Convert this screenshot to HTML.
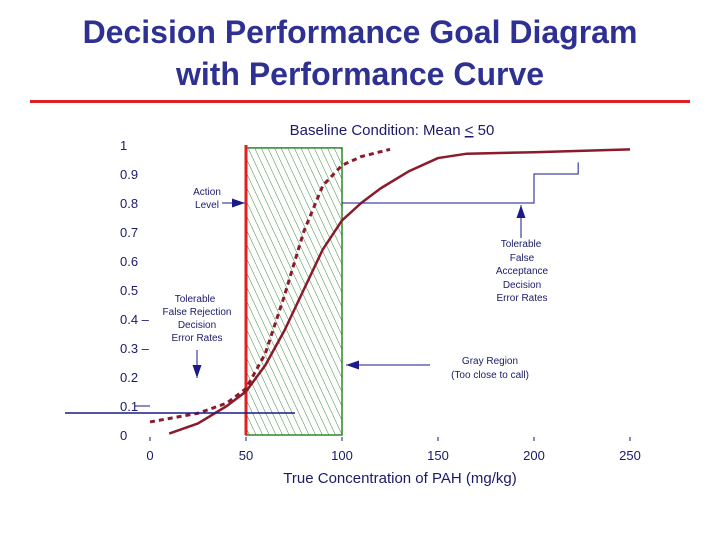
<!DOCTYPE html>
<html><head><meta charset="utf-8"><style>
body{margin:0;width:720px;height:540px;background:#fff;overflow:hidden;font-family:"Liberation Sans",sans-serif}
</style></head><body>
<svg width="720" height="540">
<defs><pattern id="hatch" patternUnits="userSpaceOnUse" width="6" height="8" patternTransform="rotate(-25)"><line x1="0" y1="0" x2="0" y2="8" stroke="#3a8a3a" stroke-width="1"/></pattern></defs>
<text x="360" y="43" text-anchor="middle" font-size="32" font-weight="bold" fill="#2e3192">Decision Performance Goal Diagram</text>
<text x="360" y="85" text-anchor="middle" font-size="32" font-weight="bold" fill="#2e3192">with Performance Curve</text>
<rect x="30" y="100" width="660" height="3" fill="#e02020"/>
<text x="392" y="135" text-anchor="middle" font-size="15" fill="#1a1a6a">Baseline Condition:  Mean <tspan text-decoration="underline">&lt;</tspan> 50</text>
<g id="axes"></g>
<g id="plot"></g>
<text x="400" y="483" text-anchor="middle" font-size="15" fill="#1a1a6a">True Concentration of PAH (mg/kg)</text>
<g font-size="10" fill="#1a1a6a" text-anchor="middle">
<text x="207" y="195"><tspan x="207">Action</tspan><tspan x="207" dy="13">Level</tspan></text>
<text x="197" y="302"><tspan x="195">Tolerable</tspan><tspan x="197" dy="13">False Rejection</tspan><tspan x="197" dy="13">Decision</tspan><tspan x="197" dy="13">Error Rates</tspan></text>
<text x="522" y="247"><tspan x="521">Tolerable</tspan><tspan x="522" dy="14">False</tspan><tspan x="522" dy="13">Acceptance</tspan><tspan x="522" dy="14">Decision</tspan><tspan x="522" dy="13">Error Rates</tspan></text>
<text x="490" y="364"><tspan x="490">Gray Region</tspan><tspan x="490" dy="14">(Too close to call)</tspan></text>
</g>
</svg>
<script>
const xTicks=[0,50,100,150,200,250];
const yTicks=[0,0.1,0.2,0.3,0.4,0.5,0.6,0.7,0.8,0.9,1];
const yTickLabels=["0","0.1","0.2","0.3 \u2013","0.4 \u2013","0.5","0.6","0.7","0.8","0.9","1"];
const solidX=[10,25,40,50,60,70,80,90,100,110,120,135,150,165,200,250];
const solidY=[0.005,0.04,0.1,0.15,0.24,0.36,0.5,0.64,0.74,0.8,0.85,0.91,0.955,0.97,0.975,0.985];
const dashX=[0,25,40,50,60,70,80,90,100,110,125];
const dashY=[0.045,0.075,0.11,0.16,0.28,0.48,0.7,0.86,0.93,0.96,0.985];
const grayLo=50, grayHi=100, actionLevel=50;
const X=v=>150+v*1.92, Y=v=>435-v*290;
const NS="http://www.w3.org/2000/svg";
function mk(t,a,p){const e=document.createElementNS(NS,t);for(const k in a)e.setAttribute(k,a[k]);p.appendChild(e);return e;}
const ax=document.getElementById('axes'), pl=document.getElementById('plot');
xTicks.forEach(v=>{const t=mk('text',{x:X(v),y:460,'text-anchor':'middle','font-size':13,fill:'#1a1a6a'},ax);t.textContent=v;


const l=mk('line',{x1:X(v),x2:X(v),y1:437,y2:441,stroke:'#1a1a6a'},ax);

});
yTicks.forEach((v,i)=>{const t=mk('text',{x:120,y:Y(v)+5,'font-size':13,fill:'#1a1a6a'},ax);t.textContent=yTickLabels[i];

});
const g=mk('rect',{x:X(grayLo),y:Y(0.99),width:X(grayHi)-X(grayLo),height:Y(0)-Y(0.99),fill:'url(#hatch)',stroke:'#2a8a2a','stroke-width':1.5},pl);


const al=mk('line',{x1:X(actionLevel),x2:X(actionLevel),y1:Y(1),y2:Y(0),stroke:'#e02020','stroke-width':3},pl);


const sp=mk('polyline',{points:solidX.map((x,i)=>X(x)+','+Y(solidY[i])).join(' '),fill:'none',stroke:'#8b1a2a','stroke-width':2.5,'stroke-linejoin':'round'},pl);


const dp=mk('polyline',{points:dashX.map((x,i)=>X(x)+','+Y(dashY[i])).join(' '),fill:'none',stroke:'#8b1a2a','stroke-width':3,'stroke-dasharray':'5,4'},pl);


const b='#1a1a8a';
const s1=mk('polyline',{points:`${X(100)},${Y(0.8)} ${X(200)},${Y(0.8)} ${X(200)},${Y(0.9)} ${X(223)},${Y(0.9)} ${X(223)},${Y(0.94)}`,fill:'none',stroke:b,'stroke-width':1},pl);


const s2=mk('line',{x1:135,x2:X(0),y1:Y(0.1),y2:Y(0.1),stroke:b,'stroke-width':1},pl);


const s3=mk('line',{x1:65,x2:295,y1:413,y2:413,stroke:b,'stroke-width':1.5},pl);


function arrow(x1,y1,x2,y2,name){const l=mk('line',{x1,y1,x2,y2,stroke:b,'stroke-width':1},pl);


const a=Math.atan2(y2-y1,x2-x1),L=13,W=4.5;
const p=[[x2,y2],[x2-L*Math.cos(a)+W*Math.sin(a),y2-L*Math.sin(a)-W*Math.cos(a)],[x2-L*Math.cos(a)-W*Math.sin(a),y2-L*Math.sin(a)+W*Math.cos(a)]];
const h=mk('polygon',{points:p.map(q=>q.join(',')).join(' '),fill:b},pl);

}
arrow(222,203,245,203,'action-level-arrow');
arrow(197,350,197,378,'false-rejection-arrow');
arrow(521,238,521,205,'false-acceptance-arrow');
arrow(430,365,346,365,'gray-region-arrow');
</script>
</body></html>
